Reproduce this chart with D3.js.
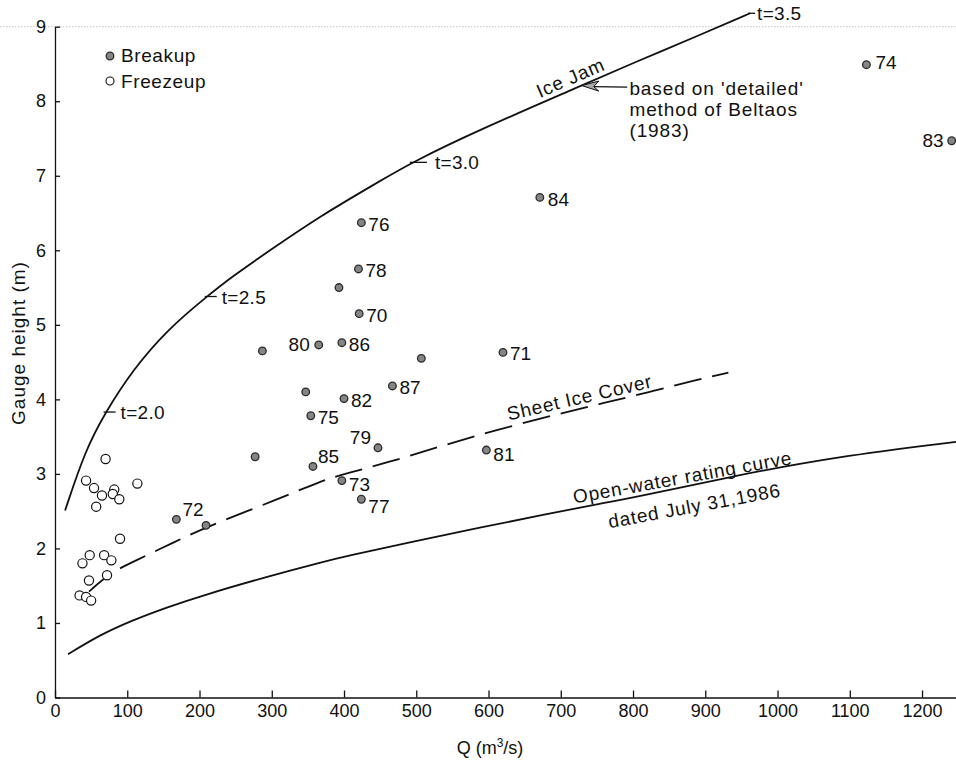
<!DOCTYPE html>
<html>
<head>
<meta charset="utf-8">
<script src="https://cdn.jsdelivr.net/npm/d3@7"></script>
<style>
  body { margin: 0; background: #fff; }
  svg { display: block; font-family: "Liberation Sans", Arial, Helvetica, sans-serif; }
</style>
</head>
<body>
<svg id="chart"></svg>
<script>
// Breakup events (filled dots); label is the year, '' when unlabelled
const breakupQ = [168, 209, 277, 287, 365, 397, 424, 420, 393, 421, 507, 620, 467, 347, 400, 354, 447, 357, 597, 397, 424, 671, 1123, 1241];
const breakupH = [2.39, 2.31, 3.23, 4.65, 4.73, 4.76, 6.37, 5.75, 5.50, 5.15, 4.55, 4.63, 4.18, 4.10, 4.01, 3.78, 3.35, 3.10, 3.32, 2.91, 2.66, 6.71, 8.49, 7.47];
const breakupYear = ['72', '', '', '', '80', '86', '76', '78', '', '70', '', '71', '87', '', '82', '75', '79', '85', '81', '73', '77', '84', '74', '83'];

// Freezeup events (open circles)
const freezeupQ = [43, 70, 54, 65, 57, 82, 80, 89, 114, 90, 38, 48, 68, 78, 47, 72, 34, 43, 50];
const freezeupH = [2.91, 3.20, 2.81, 2.71, 2.56, 2.79, 2.73, 2.66, 2.87, 2.13, 1.80, 1.91, 1.91, 1.84, 1.57, 1.64, 1.37, 1.35, 1.30];

// Ice jam curve (Beltaos 'detailed' method)
const iceJamQ = [14, 42, 70, 108, 155, 210, 247, 293, 367, 450, 494, 588, 729, 804, 893, 962];
const iceJamH = [2.51, 3.32, 3.83, 4.40, 4.93, 5.38, 5.66, 5.97, 6.46, 6.93, 7.18, 7.62, 8.21, 8.53, 8.89, 9.18];

// Sheet ice cover curve (dashed)
const sheetIceQ = [47, 76, 108, 166, 210, 311, 367, 404, 464, 533, 611, 699, 759, 823, 888, 932];
const sheetIceH = [1.42, 1.67, 1.82, 2.09, 2.29, 2.67, 2.90, 3.01, 3.16, 3.37, 3.59, 3.81, 3.95, 4.10, 4.26, 4.36];

// Open-water rating curve
const openWaterQ = [18, 62, 108, 155, 201, 293, 367, 404, 496, 588, 680, 754, 804, 943, 1081, 1247];
const openWaterH = [0.58, 0.84, 1.04, 1.21, 1.36, 1.62, 1.81, 1.90, 2.09, 2.28, 2.46, 2.60, 2.69, 2.98, 3.23, 3.43];

// Ice thickness marks on the ice jam curve
const tMarkQ = [70, 210, 494, 962];
const tMarkLabel = ['t=2.0', 't=2.5', 't=3.0', 't=3.5'];

const xTicks = [0, 100, 200, 300, 400, 500, 600, 700, 800, 900, 1000, 1100, 1200];
const yTicks = [0, 1, 2, 3, 4, 5, 6, 7, 8, 9];

const width = 956, height = 761;
const svg = d3.select('#chart').attr('width', width).attr('height', height);

const x = d3.scaleLinear().domain([0, 1247]).range([55, 956]);
const y = d3.scaleLinear().domain([0, 9]).range([697.5, 26.7]);

// faint scan edge along the top
svg.append('line')
    .attr('x1', 0).attr('x2', width)
    .attr('y1', y(9)).attr('y2', y(9))
    .attr('stroke', '#c4c4c4')
    .attr('stroke-dasharray', '1.5,1.5');

// axes
const xAxis = svg.append('g')
    .attr('transform', `translate(0, ${y(0)})`)
    .call(d3.axisBottom(x).tickValues(xTicks).tickFormat(d3.format('d'))
        .tickSizeInner(-7).tickSizeOuter(0).tickPadding(7));
const yAxis = svg.append('g')
    .attr('transform', `translate(${x(0)}, 0)`)
    .call(d3.axisLeft(y).tickValues(yTicks).tickFormat(d3.format('d'))
        .tickSizeInner(-5).tickSizeOuter(0).tickPadding(9));

[xAxis, yAxis].forEach(g => {
    g.selectAll('path, line').attr('stroke', '#111').attr('stroke-width', 1.3);
    g.selectAll('text')
        .attr('font-family', '"Liberation Sans", Arial, sans-serif')
        .attr('font-size', 18)
        .attr('fill', '#111');
});

svg.append('text')
    .attr('x', 490).attr('y', 754)
    .attr('text-anchor', 'middle')
    .attr('font-size', 18)
    .attr('fill', '#111')
    .text('Q (m')
    .call(t => t.append('tspan').attr('dy', -7).attr('font-size', 12).text('3'))
    .call(t => t.append('tspan').attr('dy', 7).text('/s)'));

svg.append('text')
    .attr('transform', 'translate(25, 343) rotate(-90)')
    .attr('text-anchor', 'middle')
    .attr('font-size', 19)
    .attr('letter-spacing', 1)
    .attr('fill', '#111')
    .text('Gauge height (m)');

// curves
const line = (qs, hs) => d3.line()
    .x(i => x(qs[i]))
    .y(i => y(hs[i]))
    .curve(d3.curveBasis)(d3.range(qs.length));

svg.append('path')
    .attr('d', line(iceJamQ, iceJamH))
    .attr('fill', 'none').attr('stroke', '#111').attr('stroke-width', 1.8);

svg.append('path')
    .attr('d', line(sheetIceQ, sheetIceH))
    .attr('fill', 'none').attr('stroke', '#111').attr('stroke-width', 1.8)
    .attr('stroke-dasharray', '28,11');

svg.append('path')
    .attr('d', line(openWaterQ, openWaterH))
    .attr('fill', 'none').attr('stroke', '#111').attr('stroke-width', 1.8);

// point on a curve (linear between read points) for placing labels
function onCurve(qs, hs, q) {
    const i = Math.max(1, Math.min(qs.length - 1, d3.bisectLeft(qs, q)));
    const t = (q - qs[i - 1]) / (qs[i] - qs[i - 1]);
    return [x(q), y(hs[i - 1] + t * (hs[i] - hs[i - 1]))];
}

// t = ice thickness marks
const tTick = [12, 12, 17, 7], tGap = [5, 5, 8, 2];
tMarkQ.forEach((q, i) => {
    const [px, py] = onCurve(iceJamQ, iceJamH, q);
    svg.append('line')
        .attr('x1', px - 2).attr('x2', px - 2 + tTick[i])
        .attr('y1', py).attr('y2', py)
        .attr('stroke', '#111').attr('stroke-width', 1.3);
    svg.append('text')
        .attr('x', px - 2 + tTick[i] + tGap[i]).attr('y', py + 7)
        .attr('font-size', 19).attr('letter-spacing', 0.3)
        .attr('fill', '#111')
        .text(tMarkLabel[i]);
});

// labels along curves
const curveLabels = [
    { qs: iceJamQ, hs: iceJamH, q: 674, angle: -23.5, dy: -5, text: 'Ice Jam' },
    { qs: sheetIceQ, hs: sheetIceH, q: 630, angle: -13, dy: -6, text: 'Sheet Ice Cover' },
    { qs: openWaterQ, hs: openWaterH, q: 720, angle: -10.3, dy: -5, text: 'Open-water rating curve' },
    { qs: openWaterQ, hs: openWaterH, q: 761, angle: -10.5, dy: 26, text: 'dated July 31,1986' }
];
curveLabels.forEach(d => {
    const [px, py] = onCurve(d.qs, d.hs, d.q);
    svg.append('text')
        .attr('transform', `translate(${px}, ${py}) rotate(${d.angle})`)
        .attr('y', d.dy)
        .attr('font-size', 19).attr('letter-spacing', 0.8)
        .attr('fill', '#111')
        .text(d.text);
});

// annotation arrow to the ice jam curve
const [tipX, tipY] = onCurve(iceJamQ, iceJamH, 729);
svg.append('line')
    .attr('x1', tipX + 12).attr('x2', x(792))
    .attr('y1', tipY + 1).attr('y2', tipY + 1.5)
    .attr('stroke', '#111').attr('stroke-width', 1.3);
svg.append('path')
    .attr('d', `M${tipX},${tipY} L${tipX + 17},${tipY - 4.5} L${tipX + 12},${tipY + 1} L${tipX + 17},${tipY + 5.5} Z`)
    .attr('fill', '#aaa').attr('stroke', '#111').attr('stroke-width', 1);

const noteLines = ["based on 'detailed'", 'method of Beltaos', '(1983)'];
svg.append('text')
    .attr('font-size', 19).attr('letter-spacing', 0.9)
    .attr('fill', '#111')
    .selectAll('tspan')
    .data(noteLines)
    .join('tspan')
    .attr('x', x(795))
    .attr('y', (d, i) => 95 + i * 21)
    .text(d => d);

// freezeup points
svg.append('g')
    .selectAll('circle')
    .data(d3.range(freezeupQ.length))
    .join('circle')
    .attr('cx', i => x(freezeupQ[i]))
    .attr('cy', i => y(freezeupH[i]))
    .attr('r', 4.6)
    .attr('fill', '#fff')
    .attr('stroke', '#111')
    .attr('stroke-width', 1.2);

// breakup points
svg.append('g')
    .selectAll('circle')
    .data(d3.range(breakupQ.length))
    .join('circle')
    .attr('cx', i => x(breakupQ[i]))
    .attr('cy', i => y(breakupH[i]))
    .attr('r', 3.8)
    .attr('fill', '#858585')
    .attr('stroke', '#2a2a2a')
    .attr('stroke-width', 1.3);

// year labels next to the breakup points
const labelOffset = {
    '72': [6, -3, 'start'], '79': [-7, -4, 'end'], '85': [5, -3, 'start'],
    '73': [7, 10, 'start'], '77': [7, 14, 'start'], '81': [7, 11, 'start'],
    '80': [-9, 6, 'end'], '83': [-8, 6, 'end'], '74': [9, 4, 'start'], '84': [8, 9, 'start']
};
svg.append('g')
    .selectAll('text')
    .data(d3.range(breakupQ.length).filter(i => breakupYear[i] !== ''))
    .join('text')
    .attr('x', i => x(breakupQ[i]) + (labelOffset[breakupYear[i]] || [7])[0])
    .attr('y', i => y(breakupH[i]) + (labelOffset[breakupYear[i]] || [7, 8])[1])
    .attr('text-anchor', i => (labelOffset[breakupYear[i]] || [7, 8, 'start'])[2])
    .attr('font-size', 19)
    .attr('fill', '#111')
    .text(i => breakupYear[i]);

// legend
const legend = svg.append('g').attr('transform', 'translate(110, 56)');
legend.append('circle').attr('r', 3.8)
    .attr('fill', '#858585').attr('stroke', '#2a2a2a').attr('stroke-width', 1.3);
legend.append('circle').attr('cy', 25).attr('r', 4)
    .attr('fill', '#fff').attr('stroke', '#111').attr('stroke-width', 1.1);
legend.selectAll('text')
    .data(['Breakup', 'Freezeup'])
    .join('text')
    .attr('x', 11)
    .attr('y', (d, i) => 6 + i * 26)
    .attr('font-size', 19).attr('letter-spacing', 0.6)
    .attr('fill', '#111')
    .text(d => d);
</script>
</body>
</html>
